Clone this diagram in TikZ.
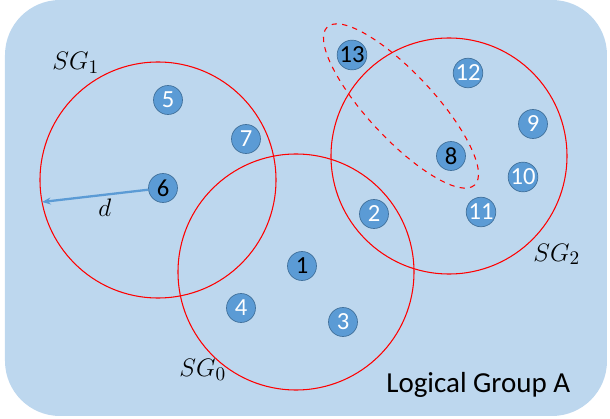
\documentclass[tikz,border=0pt]{standalone}
\usepackage{fontspec}
\setmainfont{Carlito}
\usetikzlibrary{arrows.meta}
\definecolor{bgblue}{RGB}{189,215,238}
\definecolor{nblue}{RGB}{91,155,213}
\definecolor{nedge}{RGB}{65,113,156}

\begin{document}
\begin{tikzpicture}[x=0.02cm,y=-0.02cm,
  sensor/.style={circle,draw=nedge,fill=nblue,text=white,font=\fontsize{14}{14}\selectfont,
                 minimum size=0.58cm,inner sep=0pt},
  head/.style={sensor,text=black},
  sg/.style={red,line width=0.6pt},
  lbl/.style={anchor=base west,inner sep=0pt,font=\fontsize{15}{15}\selectfont},
  arr/.style={-{Stealth[length=5pt,width=4pt]},nblue,line width=1.3pt}
]
\useasboundingbox (0,0) rectangle (610,419);
\fill[bgblue,rounded corners=1.1cm] (5,0) rectangle (607,416);

% sub-groups
\draw[sg] (158,180) circle (118);
\draw[sg] (296,272) circle (118);
\draw[sg] (449,156) circle (118);
\draw[sg,dashed,rotate around={-47:(401,106)}] (401,106) ellipse (108 and 33);

% nodes
\node[sensor] (n5)  at (168,100) {5};
\node[sensor] (n7)  at (246,139) {7};
\node[head]   (n6)  at (163,188) {6};
\node[head]   (n1)  at (302,266) {1};
\node[sensor] (n4)  at (241,308) {4};
\node[sensor] (n3)  at (343,322) {3};
\node[sensor] (n2)  at (374,214) {2};
\node[head]   (n13) at (352,55)  {13};
\node[sensor] (n12) at (468,73)  {12};
\node[sensor] (n9)  at (533,124) {9};
\node[head]   (n8)  at (451,156) {8};
\node[sensor] (n10) at (523,177) {10};
\node[sensor] (n11) at (481,212) {11};

% radius
\coordinate (rim) at (42,202);
\draw[arr] (n6) -- (rim);
\node[lbl] (d) at (98,216) {$d$};

% labels
\node[lbl] (sg1) at (52,70)  {$SG_1$};
\node[lbl] (sg0) at (179,377) {$SG_0$};
\node[lbl] (sg2) at (533,261) {$SG_2$};
\node[anchor=base west,inner sep=0pt,font=\fontsize{16.5}{16.5}\selectfont] (grp) at (386,393) {Logical Group A};
\end{tikzpicture}
\end{document}
